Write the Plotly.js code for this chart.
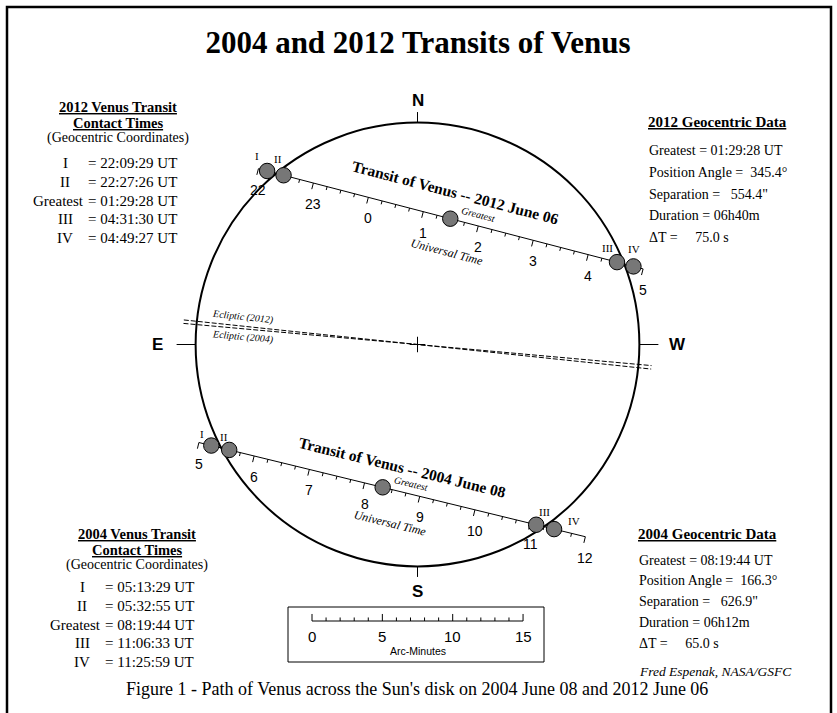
<!DOCTYPE html>
<html><head><meta charset="utf-8">
<script src="https://cdn.plot.ly/plotly-3.0.1.min.js"></script>
<style>html,body{margin:0;padding:0;background:#fff}</style>
</head><body><div id="chart" style="width:837px;height:713px"></div>
<script>
// ---------------- data ----------------
const contactLabels = ['I', 'II', 'Greatest', 'III', 'IV'];
const contactTimes2012 = ['22:09:29', '22:27:26', '01:29:28', '04:31:30', '04:49:27'];
const contactTimes2004 = ['05:13:29', '05:32:55', '08:19:44', '11:06:33', '11:25:59'];
const geoLabels = ['Greatest', 'Position Angle', 'Separation', 'Duration', '\u0394T'];
const geoValues2012 = ['01:29:28 UT', '345.4\u00b0', '554.4"', '06h40m', '75.0 s'];
const geoValues2004 = ['08:19:44 UT', '166.3\u00b0', '626.9"', '06h12m', '65.0 s'];
const positionAngle2012 = 345.4;   // degrees
const positionAngle2004 = 166.3;
const separation2012 = 554.4;      // arc-seconds
const separation2004 = 626.9;
const hours2012 = [22, 23, 0, 1, 2, 3, 4, 5];
const hours2004 = [5, 6, 7, 8, 9, 10, 11, 12];
const eclipticAngle2012 = 6.0;     // degrees
const eclipticAngle2004 = 5.15;
const sunRadius = 15.77;           // arc-minutes
const venusRadius = 0.55;          // arc-minutes
const scaleLabels = [0, 5, 10, 15];
const scaleMax = 15;

// ---------------- layout constants ----------------
const W = 837, H = 713;
const K = 14.07, CX = 417.5, CY = 344.5;           // px per arcmin, sun centre px
const toX = X => (X - CX) / K, toY = Y => (CY - Y) / K; // px -> arcmin (layout only)
const SERIF = 'Liberation Serif', SANS = 'Liberation Sans';
const pX = X => X / W, pY = Y => 1 - Y / H;
const NB = '\u00a0';
const geoPad = [1, 2, 3, 1, 5];
const contactShift2012 = [[-10, 15], [-6, 16], null, [-9, 14], [1, 17]];
const contactShift2004 = [[-9, 12], [-5, 13], null, [8, 13], [20, 8]];

const shapes = [], annotations = [], traces = [];

function hms(s) { const [h, m, x] = s.split(':').map(Number); return h + m / 60 + x / 3600; }
function unwrap(a) { const o = [a[0]]; for (let i = 1; i < a.length; i++) { let v = a[i]; while (v < o[i - 1]) v += 24; o.push(v); } return o; }

function line(x0, y0, x1, y1, opt) {
  shapes.push(Object.assign({type: 'line', xref: 'x', yref: 'y', x0, y0, x1, y1,
    line: {color: '#000', width: 1}}, opt || {}));
}
function ann(o) {
  annotations.push(Object.assign({showarrow: false, xref: 'x', yref: 'y', borderpad: 0}, o));
}
function pann(text, X, Y, font, anchor) {
  annotations.push({showarrow: false, xref: 'paper', yref: 'paper', x: pX(X), y: pY(Y), borderpad: 0,
    xanchor: anchor || 'center', yanchor: 'middle', text, font: Object.assign({family: SERIF, size: 15, color: '#000'}, font || {})});
}

// ---------------- Sun disk ----------------
shapes.push({type: 'circle', xref: 'x', yref: 'y', x0: -sunRadius, x1: sunRadius, y0: -sunRadius, y1: sunRadius,
  line: {color: '#000', width: 2}});
line(0, sunRadius, 0, sunRadius + 0.75);
line(0, -sunRadius, 0, -sunRadius - 0.75);
line(-sunRadius, 0, -sunRadius - 1.35, 0);
line(sunRadius, 0, sunRadius + 1.35, 0);
const card = {family: SANS, size: 17, weight: 'bold', color: '#000'};
ann({x: 0, y: sunRadius + 1.55, text: 'N', font: card});
ann({x: 0, y: -sunRadius - 1.75, text: 'S', font: card});
ann({x: -sunRadius - 2.7, y: 0, text: 'E', font: card});
ann({x: sunRadius + 2.7, y: 0, text: 'W', font: card});
line(-0.55, 0, 0.55, 0); line(0, -0.55, 0, 0.55);

// ---------------- ecliptic ----------------
function ecliptic(angle, label, yshift) {
  const a = angle * Math.PI / 180, L = 16.7;
  line(-L * Math.cos(a), L * Math.sin(a), L * Math.cos(a), -L * Math.sin(a),
    {line: {color: '#000', width: 1, dash: '5px,2px'}});
  const lx = -12.4;
  ann({x: lx, y: -lx * Math.tan(a), yshift, text: label, textangle: angle,
    font: {family: SERIF, size: 10, style: 'italic', color: '#000'}});
}
ecliptic(eclipticAngle2012, 'Ecliptic (2012)', 9);
ecliptic(eclipticAngle2004, 'Ecliptic (2004)', -8);

// ---------------- transits ----------------
function transit(times, pa, sepArcsec, hours, year, dateText, shifts, titleShift, utShift) {
  const t = unwrap(times.map(hms));
  const hrs = unwrap(hours);
  const sep = sepArcsec / 60, p = pa * Math.PI / 180;
  const gx = -sep * Math.sin(p), gy = sep * Math.cos(p);
  let dx = gy / sep, dy = -gx / sep; if (dx < 0) { dx = -dx; dy = -dy; }
  const nx = dy, ny = -dx;
  const tg = t[2];
  const rate = 2 * Math.sqrt((sunRadius + venusRadius) ** 2 - sep * sep) / (t[4] - t[0]);
  const at = h => { const s = rate * (h - tg); return [gx + s * dx, gy + s * dy]; };
  const ang = Math.atan2(-dy, dx) * 180 / Math.PI;
  const a0 = at(hrs[0]), a1 = at(hrs[hrs.length - 1]);
  const lx = [a0[0], a1[0], null], ly = [a0[1], a1[1], null];
  for (let q = hrs[0] * 4; q <= hrs[hrs.length - 1] * 4; q++) {
    const P = at(q / 4), len = q % 4 === 0 ? 0.45 : 0.25;
    lx.push(P[0], P[0] + nx * len, null); ly.push(P[1], P[1] + ny * len, null);
  }
  traces.push({type: 'scatter', mode: 'lines', x: lx, y: ly, line: {color: '#000', width: 1}, hoverinfo: 'skip'});
  hrs.forEach((h, i) => {
    const P = at(h);
    ann({x: P[0], y: P[1], yshift: -21, text: String(hours[i]), font: {family: SANS, size: 14, color: '#000'}});
  });
  t.forEach((tt, i) => {
    const P = at(tt);
    shapes.push({type: 'circle', xref: 'x', yref: 'y', x0: P[0] - venusRadius, x1: P[0] + venusRadius,
      y0: P[1] - venusRadius, y1: P[1] + venusRadius, fillcolor: '#777777', line: {color: '#000', width: 1}});
    if (shifts[i]) ann({x: P[0], y: P[1], xshift: shifts[i][0], yshift: shifts[i][1], text: contactLabels[i],
      font: {family: SERIF, size: 11, color: '#000'}});
  });
  ann({x: gx, y: gy, xshift: 28, yshift: 4, text: 'Greatest', textangle: ang,
    font: {family: SERIF, size: 10, style: 'italic', color: '#000'}});
  ann({x: gx, y: gy, xshift: titleShift[0], yshift: titleShift[1], textangle: ang,
    text: 'Transit of Venus -- ' + year + ' ' + dateText, font: {family: SERIF, size: 15.5, weight: 'bold', color: '#000'}});
  ann({x: gx, y: gy, xshift: utShift[0], yshift: utShift[1], textangle: ang,
    text: 'Universal Time', font: {family: SERIF, size: 12, style: 'italic', color: '#000'}});
}
transit(contactTimes2012, positionAngle2012, separation2012, hours2012, 2012, 'June 06', contactShift2012, [5, 26], [-3, -33]);
transit(contactTimes2004, positionAngle2004, separation2004, hours2004, 2004, 'June 08', contactShift2004, [20, 20], [7, -36]);

// ---------------- scale bar ----------------
const sbX = toX(312), sbY = toY(621);
shapes.push({type: 'rect', xref: 'x', yref: 'y', x0: toX(288), x1: toX(544), y0: toY(607), y1: toY(662),
  line: {color: '#000', width: 1}});
line(sbX, sbY, sbX + scaleMax, sbY);
for (let m = 0; m <= scaleMax; m++) {
  const major = scaleLabels.includes(m);
  line(sbX + m, sbY, sbX + m, sbY + (major ? 0.5 : 0.25));
}
scaleLabels.forEach(v => ann({x: sbX + v, y: sbY, yshift: -15, text: String(v), font: {family: SANS, size: 15, color: '#000'}}));
ann({x: sbX + scaleMax / 2, y: sbY, yshift: -30, text: 'Arc-Minutes', font: {family: SANS, size: 10.5, color: '#000'}});

// ---------------- text blocks ----------------
function contactBlock(year, times, cx, yHead, valueX, yRow0) {
  const hf = {size: 14.5, weight: 'bold', lineposition: 'under'};
  pann(year + ' Venus Transit', cx, yHead, hf);
  pann('Contact Times', cx, yHead + 16, hf);
  pann('(Geocentric Coordinates)', cx, yHead + 31, {size: 14});
  contactLabels.forEach((lab, i) => {
    const y = yRow0 + i * 18.8;
    if (lab === 'Greatest') pann(lab, valueX - 2, y, {}, 'right');
    else pann(lab, valueX - 22, y);
    pann('= ' + times[i] + ' UT', valueX, y, {}, 'left');
  });
}
contactBlock(2012, contactTimes2012, 118, 107, 87, 163);
contactBlock(2004, contactTimes2004, 137, 534, 104, 587);

function geoBlock(year, values, x, yHead, yRow0, step) {
  pann(year + ' Geocentric Data', x + 69, yHead, {size: 15, weight: 'bold', lineposition: 'under'});
  geoLabels.forEach((lab, i) => {
    pann(lab + ' =' + NB.repeat(geoPad[i]) + values[i], x, yRow0 + i * step, {size: 14}, 'left');
  });
}
geoBlock(2012, geoValues2012, 648, 122, 151, 21.5);
geoBlock(2004, geoValues2004, 638, 534, 560, 20.8);

pann('Fred Espenak, NASA/GSFC', 638, 671, {size: 13.5, style: 'italic'}, 'left');
pann('Figure 1 - Path of Venus across the Sun\'s disk on 2004 June 08 and 2012 June 06', 417, 689, {size: 18});

shapes.push({type: 'rect', xref: 'paper', yref: 'paper', x0: pX(7), x1: pX(831), y0: -0.05, y1: pY(7),
  line: {color: '#000', width: 2.5}});

const layout = {
  width: W, height: H, margin: {l: 0, r: 0, t: 0, b: 0, pad: 0}, autosize: false,
  paper_bgcolor: '#fff', plot_bgcolor: '#fff', showlegend: false,
  xaxis: {range: [-CX / K, (W - CX) / K], visible: false, fixedrange: true},
  yaxis: {range: [-(H - CY) / K, CY / K], visible: false, fixedrange: true},
  title: {text: '2004 and 2012 Transits of Venus', x: pX(418), xanchor: 'center', y: pY(42), yanchor: 'middle',
    font: {family: SERIF, size: 31, weight: 'bold', color: '#000'}},
  shapes, annotations
};
Plotly.newPlot('chart', traces, layout, {staticPlot: true, displayModeBar: false});
</script></body></html>
